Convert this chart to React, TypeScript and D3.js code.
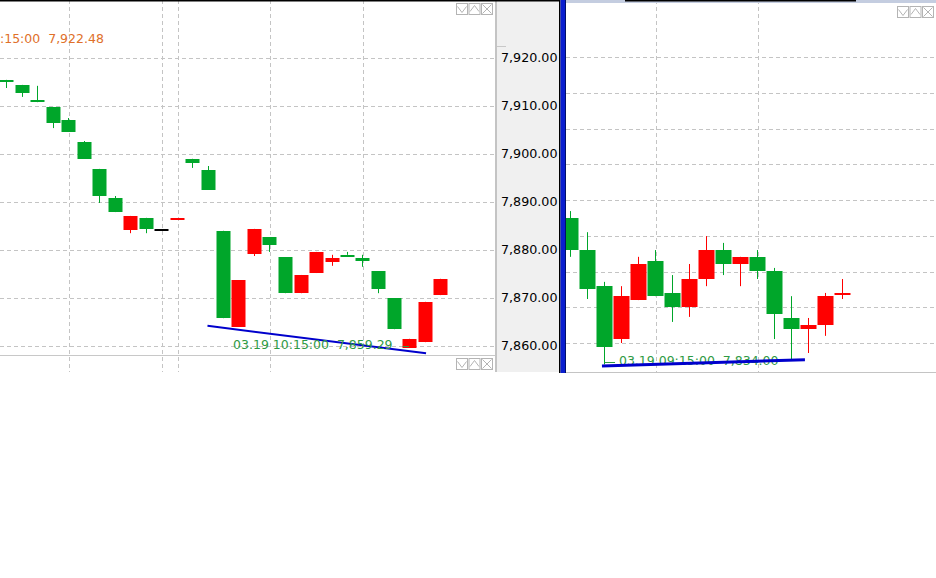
import React from "react";
import * as d3 from "d3";

// ---------- data ----------
const leftOpen = [7915.45, 7914.4, 7911.25, 7909.8, 7907.1, 7902.5, 7896.9, 7890.8, 7884.2, 7886.7, 7884.4, 7886.5, 7899.0, 7896.7, 7884.0, 7864.0, 7879.2, 7882.7, 7878.5, 7871.0, 7875.2, 7877.5, 7879.05, 7878.3, 7875.6, 7870.0, 7859.6, 7860.8, 7870.6];
const leftClose = [7915.4, 7912.7, 7910.8, 7906.5, 7904.6, 7899.0, 7891.25, 7887.9, 7887.1, 7884.4, 7884.4, 7886.6, 7898.1, 7892.5, 7865.8, 7873.75, 7884.4, 7881.0, 7871.0, 7874.8, 7879.6, 7878.3, 7879.0, 7877.7, 7871.9, 7863.5, 7861.5, 7869.2, 7874.0];
const leftHigh = [7915.45, 7914.4, 7914.2, 7909.8, 7907.5, 7902.7, 7896.9, 7891.25, 7887.1, 7886.7, 7884.4, 7886.6, 7899.0, 7897.5, 7884.0, 7873.75, 7884.4, 7882.7, 7878.5, 7874.8, 7879.6, 7879.0, 7879.6, 7879.0, 7875.6, 7870.0, 7861.5, 7869.2, 7874.0];
const leftLow = [7913.75, 7911.9, 7910.8, 7905.4, 7904.6, 7899.0, 7889.8, 7887.9, 7883.5, 7883.5, 7884.4, 7886.5, 7897.1, 7892.5, 7865.8, 7864.0, 7878.75, 7879.6, 7871.0, 7871.0, 7875.2, 7876.7, 7879.0, 7876.5, 7871.0, 7863.5, 7859.6, 7860.8, 7870.6];

const rightOpen = [7875.0, 7866.0, 7855.9, 7841.1, 7852.0, 7862.9, 7854.0, 7850.1, 7857.9, 7866.0, 7862.1, 7864.1, 7860.1, 7847.0, 7843.9, 7845.0, 7854.0];
const rightClose = [7866.0, 7855.1, 7838.9, 7853.1, 7862.1, 7853.1, 7850.1, 7857.9, 7866.0, 7862.1, 7864.1, 7860.1, 7848.1, 7843.9, 7845.0, 7853.1, 7854.05];
const rightHigh = [7876.9, 7871.0, 7857.1, 7855.9, 7864.1, 7866.0, 7859.0, 7862.1, 7869.9, 7868.0, 7864.1, 7866.0, 7861.0, 7853.1, 7847.0, 7854.0, 7857.9];
const rightLow = [7864.1, 7852.3, 7834.0, 7840.0, 7852.0, 7853.1, 7845.9, 7847.3, 7855.9, 7859.0, 7855.9, 7857.9, 7841.1, 7835.2, 7837.2, 7842.0, 7852.3];

const leftTicks = [7860, 7870, 7880, 7890, 7900, 7910, 7920];
const leftTickLabels = ["7,860.00", "7,870.00", "7,880.00", "7,890.00", "7,900.00", "7,910.00", "7,920.00"];
const rightTicks = [7840, 7850, 7860, 7870, 7880, 7890, 7900, 7910, 7920];

const leftTimeGrid = [4, 10, 11, 17, 23];
const rightTimeGrid = [5, 11];

const leftTrend = [[13, 7864.2], [27.1, 7858.5]];
const rightTrend = [[1.88, 7833.6], [13.82, 7835.3]];

const leftTagText = "03.19 10:15:00  7,859.29";
const leftTagValue = 7859.29;
const leftTagIndex = 14.65;
const rightTagText = "03.19 09:15:00  7,834.00";
const rightTagValue = 7834.0;
const rightTagIndex = 2.88;
const topTagText = ":15:00  7,922.48";
const topTagValue = 7922.48;

// ---------- styles ----------
const UP = "#ff0000";
const DOWN = "#00a62a";
const FLAT = "#000000";
const GRID = "#c4c4c4";
const FONT = "'DejaVu Sans', Verdana, sans-serif";

const W = 936;
const H = 578;

const LEFT = { x0: 0, x1: 495, y0: 0, y1: 355 };
const RIGHT = { x0: 566, x1: 936, y0: 0, y1: 372 };

const lx = d3.scaleLinear().domain([0, 28]).range([6, 440]);
const ly = d3.scaleLinear().domain([7860, 7920]).range([346, 58]);
const rx = d3.scaleLinear().domain([0, 16]).range([570, 842]);
const ry = d3.scaleLinear().domain([7840, 7920]).range([343, 57]);

const crisp = (v: number) => Math.round(v) + 0.5;
const pre = { whiteSpace: "pre" as const };

function Candles({ o, h, l, c, x, y, w }: any) {
  return (
    <g>
      {o.map((_: number, i: number) => {
        const col = c[i] > o[i] ? UP : c[i] < o[i] ? DOWN : FLAT;
        const cx = Math.round(x(i));
        const top = y(Math.max(o[i], c[i]));
        const bot = y(Math.min(o[i], c[i]));
        const bh = Math.max(2, bot - top);
        return (
          <g key={i}>
            <line x1={cx + 0.5} x2={cx + 0.5} y1={y(h[i])} y2={y(l[i])} stroke={col} strokeWidth={1} />
            <rect x={cx - w / 2 + 0.5} y={Math.round(top)} width={w} height={Math.round(bh)} fill={col} />
          </g>
        );
      })}
    </g>
  );
}

function Icons({ x, y }: { x: number; y: number }) {
  const s = 11;
  const gap = 1.5;
  const st = "#b4b4b4";
  return (
    <g stroke={st} fill="none" strokeWidth={1}>
      {[0, 1, 2].map((k) => {
        const bx = x + k * (s + gap) + 0.5;
        const by = y + 0.5;
        let glyph = "";
        if (k === 0) glyph = `M${bx + 1},${by + 3} L${bx + s / 2},${by + s - 2} L${bx + s - 1},${by + 3}`;
        if (k === 1) glyph = `M${bx + 1},${by + s - 3} L${bx + s / 2},${by + 2} L${bx + s - 1},${by + s - 3}`;
        if (k === 2) glyph = `M${bx + 1},${by + 1} L${bx + s - 1},${by + s - 1} M${bx + s - 1},${by + 1} L${bx + 1},${by + s - 1}`;
        return (
          <g key={k}>
            <rect x={bx} y={by} width={s} height={s} />
            <path d={glyph} />
          </g>
        );
      })}
    </g>
  );
}

export default function App() {
  const lineL = d3.line<number[]>().x((d) => lx(d[0])).y((d) => ly(d[1]));
  const lineR = d3.line<number[]>().x((d) => rx(d[0])).y((d) => ry(d[1]));

  return (
    <svg
      width={W}
      height={H}
      style={{ position: "fixed", left: 0, top: 0, background: "#ffffff" }}
      fontFamily={FONT}
    >
      <defs>
        <clipPath id="clipL">
          <rect x={LEFT.x0} y={LEFT.y0} width={LEFT.x1 - LEFT.x0} height={LEFT.y1 - LEFT.y0} />
        </clipPath>
        <clipPath id="clipLfull">
          <rect x={LEFT.x0} y={0} width={LEFT.x1 - LEFT.x0} height={372} />
        </clipPath>
        <clipPath id="clipR">
          <rect x={RIGHT.x0} y={RIGHT.y0} width={RIGHT.x1 - RIGHT.x0} height={RIGHT.y1 - RIGHT.y0} />
        </clipPath>
      </defs>
      <rect x={0} y={0} width={W} height={H} fill="#ffffff" />

      {/* ---------- LEFT PANEL ---------- */}
      <g clipPath="url(#clipLfull)">
        {leftTimeGrid.map((i) => (
          <line key={i} x1={crisp(lx(i) + 1)} x2={crisp(lx(i) + 1)} y1={0} y2={372} stroke={GRID} strokeDasharray="4,3" />
        ))}
      </g>
      <g clipPath="url(#clipL)">
        {leftTicks.map((v) => (
          <line key={v} x1={0} x2={LEFT.x1} y1={crisp(ly(v) - 0.5)} y2={crisp(ly(v) - 0.5)} stroke={GRID} strokeDasharray="4,3" />
        ))}
        <Candles o={leftOpen} h={leftHigh} l={leftLow} c={leftClose} x={lx} y={ly} w={14} />
        <path d={lineL(leftTrend) || ""} stroke="#0000cc" strokeWidth={2} fill="none" />
        <text x={lx(leftTagIndex)} y={ly(leftTagValue)} fontSize={12.5} fill="#2f9a44" style={pre}>
          {leftTagText}
        </text>
        <line x1={lx(25.6)} x2={lx(26.0)} y1={crisp(ly(leftTagValue) - 3)} y2={crisp(ly(leftTagValue) - 3)} stroke="#2f9a44" />
        <text x={0} y={ly(topTagValue) - 3} fontSize={12.5} fill="#e0702a" style={pre}>
          {topTagText}
        </text>
      </g>
      {/* left sub-panel separator */}
      <line x1={0} x2={LEFT.x1} y1={355.5} y2={355.5} stroke="#c8c8c8" />
      <Icons x={456} y={3} />
      <Icons x={456} y={358} />

      {/* ---------- AXIS STRIP ---------- */}
      <rect x={495} y={0} width={2} height={372} fill="#c4c4c4" />
      <rect x={497} y={0} width={63} height={372} fill="#f0f0f0" />
      <line x1={497} x2={506} y1={crisp(ly(topTagValue))} y2={crisp(ly(topTagValue))} stroke="#c8c8c8" />
      {leftTicks.map((v, k) => (
        <text key={v} x={501} y={ly(v) - 0.5} dy="0.36em" fontSize={12.7} fill="#000000">
          {leftTickLabels[k]}
        </text>
      ))}
      <rect x={0} y={0} width={560} height={1.5} fill="#000000" />

      {/* ---------- RIGHT PANEL ---------- */}
      <g clipPath="url(#clipR)">
        {rightTicks.map((v) => (
          <line key={v} x1={RIGHT.x0} x2={RIGHT.x1} y1={crisp(ry(v))} y2={crisp(ry(v))} stroke={GRID} strokeDasharray="4,3" />
        ))}
        {rightTimeGrid.map((i) => (
          <line key={i} x1={crisp(rx(i) + 1)} x2={crisp(rx(i) + 1)} y1={0} y2={372} stroke={GRID} strokeDasharray="4,3" />
        ))}
        <Candles o={rightOpen} h={rightHigh} l={rightLow} c={rightClose} x={rx} y={ry} w={16} />
        <line x1={crisp(rx(2))} x2={rx(2.65)} y1={crisp(ry(rightTagValue) - 2)} y2={crisp(ry(rightTagValue) - 2)} stroke="#2f9a44" />
        <text x={rx(rightTagIndex)} y={ry(rightTagValue) + 1} fontSize={12.5} fill="#2f9a44" style={pre}>
          {rightTagText}
        </text>
        <path d={lineR(rightTrend) || ""} stroke="#0000cc" strokeWidth={3} fill="none" />
      </g>
      <rect x={566} y={0} width={370} height={3} fill="#c4cde0" />
      <rect x={625} y={0} width={231} height={1.5} fill="#000000" />
      <line x1={566} x2={936} y1={372.5} y2={372.5} stroke="#c4c4c4" />
      <Icons x={897} y={6} />

      {/* ---------- SEPARATOR ---------- */}
      <rect x={559} y={0} width={1.5} height={373} fill="#000000" />
      <rect x={560.5} y={0} width={4.5} height={373} fill="#0a1ecf" />
      <rect x={565} y={0} width={1} height={373} fill="#00106a" />
    </svg>
  );
}
